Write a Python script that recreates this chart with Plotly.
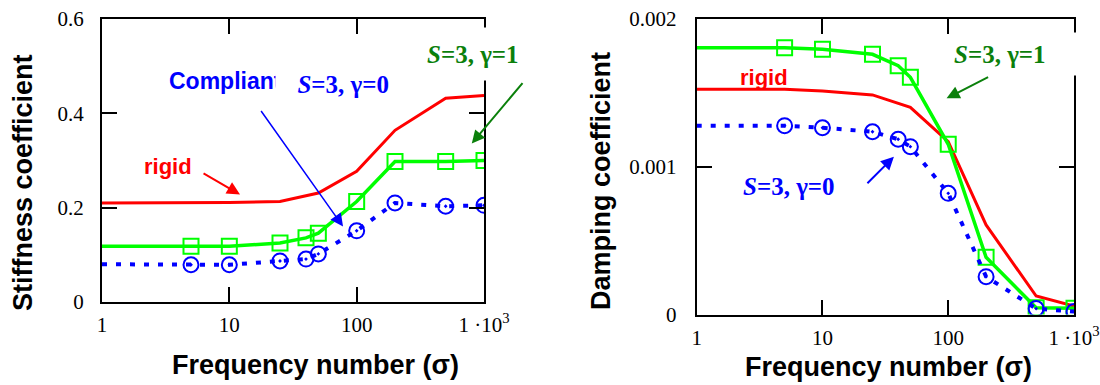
import plotly.graph_objects as go

# Frequency numbers (sigma) at which the coefficients were evaluated
sigma = [1, 5, 10, 25, 40, 50, 100, 200, 500, 1000]
sigma_rigid = [1, 5, 10, 25, 50, 100, 200, 500, 1000]

# Stiffness coefficient
stiff_rigid = [0.210, 0.210, 0.211, 0.213, 0.231, 0.277, 0.364, 0.432, 0.438]
stiff_s3_g1 = [0.118, 0.118, 0.118, 0.125, 0.136, 0.146, 0.213, 0.298, 0.298, 0.300]
stiff_s3_g0 = [0.080, 0.079, 0.079, 0.087, 0.091, 0.102, 0.151, 0.210, 0.203, 0.205]

# Damping coefficient
damp_rigid = [0.001524, 0.001524, 0.001513, 0.001486, 0.001402, 0.001170, 0.000606, 0.000125, 0.000058]
damp_s3_g1 = [0.001806, 0.001806, 0.001795, 0.001761, 0.001684, 0.001605, 0.001152, 0.000387, 0.000046, 0.000042]
damp_s3_g0 = [0.001278, 0.001278, 0.001264, 0.001237, 0.001186, 0.001136, 0.000820, 0.000256, 0.000040, 0.000020]

# Tick labels
freq_ticks = [1, 10, 100, 1000]
freq_ticktext = ["1", "10", "100", "1 ·10<sup>3</sup>"]
stiff_ticks = [0, 0.2, 0.4, 0.6]
stiff_ticktext = ["0", "0.2", "0.4", "0.6"]
damp_ticks = [0, 0.001, 0.002]
damp_ticktext = ["0", "0.001", "0.002"]

RED = "#ff0000"
LIME = "#00ff00"
BLUE = "#0000ff"
DARKGREEN = "#0b800b"
SANS = "Liberation Sans"
SERIF = "Liberation Serif"

fig = go.Figure()


def add_panel(xa, ya, rigid, g1, g0):
    fig.add_trace(go.Scatter(x=sigma_rigid, y=rigid, mode="lines", xaxis=xa, yaxis=ya,
                             line=dict(color=RED, width=3)))
    fig.add_trace(go.Scatter(x=sigma, y=g1, mode="lines", xaxis=xa, yaxis=ya,
                             line=dict(color=LIME, width=3.5)))
    fig.add_trace(go.Scatter(x=sigma[1:], y=g1[1:], mode="markers", xaxis=xa, yaxis=ya,
                             marker=dict(symbol="square-open", size=15, color=LIME,
                                         line=dict(color=LIME, width=2))))
    fig.add_trace(go.Scatter(x=sigma, y=g0, mode="lines", xaxis=xa, yaxis=ya,
                             line=dict(color=BLUE, width=4, dash="5px,9px")))
    fig.add_trace(go.Scatter(x=sigma[1:], y=g0[1:], mode="markers", xaxis=xa, yaxis=ya,
                             marker=dict(symbol="circle-open-dot", size=15, color=BLUE,
                                         line=dict(color=BLUE, width=2))))


add_panel("x", "y", stiff_rigid, stiff_s3_g1, stiff_s3_g0)
add_panel("x2", "y2", damp_rigid, damp_s3_g1, damp_s3_g0)

axis_common = dict(showline=True, linecolor="black", linewidth=2, mirror="ticks",
                   ticks="inside", ticklen=15, tickwidth=2, tickcolor="black",
                   showgrid=False, zeroline=False, automargin=False,
                   ticklabeloverflow="allow",
                   tickfont=dict(family=SERIF, size=21, color="black"))

xaxis_common = dict(axis_common, type="log", range=[0, 3], tickvals=freq_ticks,
                    ticktext=freq_ticktext, ticklabelstandoff=3)

fig.update_layout(
    width=1100, height=385,
    margin=dict(l=0, r=0, t=0, b=0, pad=0),
    paper_bgcolor="white", plot_bgcolor="white",
    showlegend=False,
    xaxis=dict(xaxis_common, domain=[102 / 1100, 484 / 1100], anchor="y"),
    yaxis=dict(axis_common, domain=[1 - 302 / 385, 1 - 19 / 385], anchor="x",
               range=[0, 0.6], tickvals=stiff_ticks, ticktext=stiff_ticktext,
               ticklabelstandoff=12),
    xaxis2=dict(xaxis_common, domain=[696.7 / 1100, 1074 / 1100], anchor="y2"),
    yaxis2=dict(axis_common, domain=[1 - 314.5 / 385, 1 - 19 / 385], anchor="x2",
                range=[0, 0.002], tickvals=damp_ticks, ticktext=damp_ticktext,
                ticklabelstandoff=14),
)


def label(text, x, y, xref, yref, color, family, size, **kw):
    d = dict(text=text, x=x, y=y, xref=xref, yref=yref, showarrow=False,
             font=dict(family=family, size=size, color=color))
    d.update(kw)
    fig.add_annotation(**d)


def arrow(x, y, ax, ay, xref, yref, color, width, size):
    fig.add_annotation(text="", x=x, y=y, ax=ax, ay=ay, xref=xref, yref=yref,
                       showarrow=True, arrowhead=2, arrowcolor=color,
                       arrowwidth=width, arrowsize=size, standoff=0)


# Stiffness panel annotations
label("<b>rigid</b>", 0.518, 0.287, "x", "y", RED, SANS, 22)
arrow(1.084, 0.228, -38, -22, "x", "y", RED, 2, 1.3)
label("<b>Compliant</b>", 0.511, 0.468, "x", "y", BLUE, SANS, 23, xanchor="left")
label("<b><i>S</i>=3, γ=0</b>", 2.262, 0.4617, "x", "y", BLUE, SERIF, 25,
      xanchor="right", width=113, align="right", bgcolor="white", borderpad=0)
arrow(1.893, 0.160, -83, -117, "x", "y", BLUE, 1.5, 1.7)
label("<b><i>S</i>=3, γ=1</b>", 2.914, 0.5255, "x", "y", DARKGREEN, SERIF, 25,
      height=52, bgcolor="white", borderpad=0)
arrow(2.904, 0.336, 52, -62, "x", "y", DARKGREEN, 2, 1.3)

# Damping panel annotations
label("<b>rigid</b>", 0.535, 0.001607, "x2", "y2", RED, SANS, 22)
label("<b><i>S</i>=3, γ=1</b>", 2.037, 0.001763, "x2", "y2", DARKGREEN, SERIF, 25,
      xanchor="left", width=124, height=42, align="left", bgcolor="white", borderpad=0)
arrow(1.987, 0.001463, 43, -22, "x2", "y2", DARKGREEN, 2, 1.3)
arrow(1.568, 0.001068, -28, 28, "x2", "y2", BLUE, 2, 1.3)
label("<b><i>S</i>=3, γ=0</b>", 0.734, 0.000863, "x2", "y2", BLUE, SERIF, 25)

# Axis titles
title_font = dict(family=SANS, size=27, color="black")
for text, px, py, ang in [("<b>Stiffness coefficient</b>", 23, 183, -90),
                          ("<b>Frequency number (σ)</b>", 315, 365, 0),
                          ("<b>Damping coefficient</b>", 601, 181, -90),
                          ("<b>Frequency number (σ)</b>", 888, 367, 0)]:
    fig.add_annotation(text=text, x=px / 1100, y=1 - py / 385, xref="paper", yref="paper",
                       showarrow=False, textangle=ang, xanchor="center", yanchor="middle",
                       font=title_font)

fig.write_html("out.html")
